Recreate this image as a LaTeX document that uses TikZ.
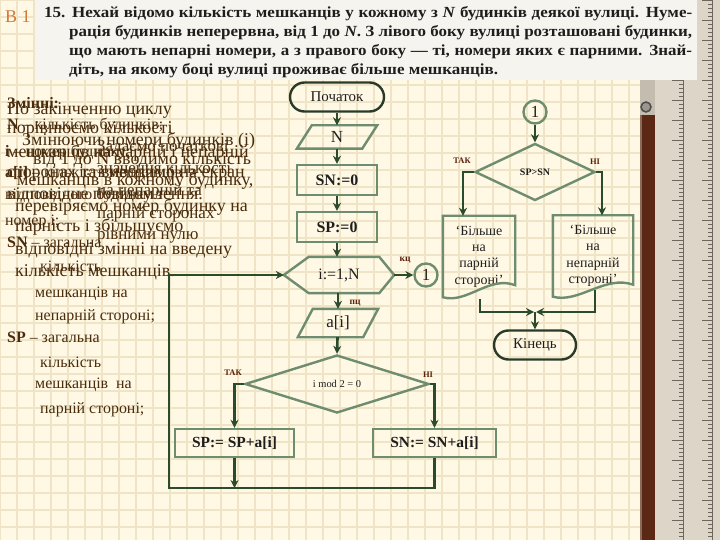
\documentclass[tikz,border=0pt]{standalone}
\usepackage{fontspec}
\setmainfont{Liberation Serif}
\newfontfamily\hdrfont[FakeStretch=1.1]{Liberation Serif}
\usetikzlibrary{calc,shapes.geometric,arrows.meta}
\definecolor{bgc}{HTML}{FFF8E4}
\definecolor{gridc}{HTML}{EFE4C6}
\definecolor{boxc}{HTML}{6E8C6E}
\definecolor{linec}{HTML}{2C4A2C}
\definecolor{termc}{HTML}{2A3A2A}
\definecolor{lblc}{HTML}{5A2008}
\definecolor{txtc}{HTML}{1E1E1E}
\definecolor{leftc}{HTML}{4A2C0C}
\definecolor{orangec}{HTML}{D07838}
\definecolor{hdrbg}{HTML}{F6F4EE}
\definecolor{rulerc}{HTML}{DDD6C8}
\definecolor{tickc}{HTML}{6E665C}
\definecolor{woodc}{HTML}{5A2814}
\definecolor{metalc}{HTML}{C4BCAE}
\tikzset{
 conn/.style={draw=linec, line width=2.6bp, -{Stealth[length=8bp,width=8bp]}},
 boxline/.style={draw=boxc, line width=2.4bp},
 term/.style={draw=termc, line width=2.4bp, rounded corners=14.5bp, minimum width=94bp, minimum height=29bp, inner sep=0, font=\fontsize{15}{17}\selectfont, text=txtc},
 rbox/.style={draw=boxc, line width=2.4bp, minimum width=80bp, minimum height=30bp, inner sep=0, font=\fontsize{16}{18}\selectfont\bfseries, text=txtc},
 slot/.style={inner sep=0, text=txtc},
 conc/.style={circle, draw=boxc, line width=2.4bp, minimum size=23bp, inner sep=0, font=\fontsize{17}{17}\selectfont, text=txtc},
 dec/.style={diamond, draw=boxc, line width=2.4bp, inner sep=0, text=txtc},
 lbl/.style={inner sep=0, text=lblc, font=\fontsize{9.5}{10}\selectfont\bfseries},
 lblu/.style={inner sep=0, text=lblc, font=\fontsize{8.5}{10}\selectfont\bfseries},
 lt/.style={anchor=base west, inner sep=0, text=leftc, font=\fontsize{18}{20}\selectfont},
 lta/.style={anchor=base west, inner sep=0, text=leftc, font=\fontsize{16}{18}\selectfont},
 ltd/.style={anchor=base west, inner sep=0, text=leftc, font=\fontsize{17}{19}\selectfont},
 hdr/.style={anchor=base west, inner sep=0, text=txtc, font=\hdrfont\fontsize{15.5}{17}\selectfont\bfseries},
 doctext/.style={inner sep=0, minimum width=72bp, minimum height=81bp, align=center, text=txtc, font=\fontsize{14}{16.5}\selectfont},
}
\begin{document}
\begin{tikzpicture}[x=1bp,y=-1bp]
\useasboundingbox (0,0) rectangle (720,540);
% background and grid
\fill[bgc] (0,0) rectangle (720,540);
\foreach \gx in {0,17,...,720} {\draw[gridc, line width=1.3bp] (\gx,0) -- (\gx,540);}
\foreach \gy in {0,17,...,540} {\draw[gridc, line width=1.3bp] (0,\gy) -- (720,\gy);}
% ruler at the right
\fill[rulerc] (655,0) rectangle (720,540);
\draw[tickc, line width=0.6bp] (683,0) -- (683,540);
\draw[tickc, line width=0.6bp] (712,0) -- (712,540);
\foreach \ty in {0,4,...,540} {\draw[tickc, line width=0.5bp] (683,\ty) -- (679,\ty); \draw[tickc, line width=0.5bp] (712,\ty) -- (708,\ty);}
\foreach \ty in {0,20,...,540} {\draw[tickc, line width=0.6bp] (683,\ty) -- (672,\ty); \draw[tickc, line width=0.6bp] (712,\ty) -- (702,\ty);}
\fill[metalc] (640,0) rectangle (655,115);
\fill[woodc] (640,115) rectangle (655,540);
\fill[woodc!70!white] (640,115) rectangle (642,540);
\draw[black!70, line width=1.5bp, fill=metalc!80!black] (646,107) circle (5);
% header
\fill[hdrbg] (35,0) rectangle (697,80);
\node[anchor=base west, inner sep=0, text=orangec, font=\fontsize{18}{20}\selectfont] (b1) at (5,23) {В 1};
\node[hdr] (h1) at (44,18) {\makebox[648bp][s]{15. Нехай відомо кількість мешканців у кожному з \textit{N} будинків деякої вулиці. Нуме-}};
\node[hdr] (h2) at (69,37) {\makebox[623bp][s]{рація будинків неперервна, від 1 до \textit{N}. З лівого боку вулиці розташовані будинки,}};
\node[hdr] (h3) at (69,56) {\makebox[623bp][s]{що мають непарні номери, а з правого боку — ті, номери яких є парними. Знай-}};
\node[hdr] (h4) at (69,75) {діть, на якому боці вулиці проживає більше мешканців.};
% left text, layer A (variables)
\node[lta] (a1) at (7,109) {\textbf{Змінні:}};
\node[lta] (a2) at (7,130) {\textbf{N} – кількість будинків;};
\node[lta] (a3) at (5,157) {\textbf{і} – номер будинку;};
\node[lta] (a4) at (5,178) {\textbf{a[i]} – кількість мешканців};
\node[lta] (a5) at (5,200) {відповідного будинку з};
\node[lta] (a6) at (5,226) {номер і;};
\node[lta] (a7) at (7,248) {\textbf{SN} – загальна};
\node[lta] (a8) at (40,272) {кількість};
\node[lta] (a9) at (35,297) {мешканців на};
\node[lta] (a10) at (35,320) {непарній стороні;};
\node[lta] (a11) at (7,342) {\textbf{SP} – загальна};
\node[lta] (a12) at (40,367) {кількість};
\node[lta] (a13) at (35,388) {мешканців \ на};
\node[lta] (a14) at (40,413) {парній стороні;};
% layer B
\node[lt] (b2) at (7,115) {По закінченню циклу};
\node[lt] (b3) at (7,134) {порівнюємо кількості};
\node[lt] (b4) at (7,158) {мешканців на парній і непарній};
\node[lt] (b5) at (7,178) {сторонах та виводимо на екран};
\node[lt] (b6) at (7,200) {відповідне повідомлення.};
% layer C
\node[lt] (c1t) at (22,146) {Змінюючи номери будинків (і)};
\node[lt] (c2t) at (33,165) {від 1 до N вводимо кількість};
\node[lt] (c3t) at (17,186) {мешканців в кожному будинку,};
\node[lt] (c4t) at (15,212) {перевіряємо номер будинку на};
\node[lt] (c5t) at (15,232) {парність і збільшуємо};
\node[lt] (c6t) at (15,255) {відповідні змінні на введену};
\node[lt] (c7t) at (15,277) {кількість мешканців.};
% layer D
\node[ltd] (d1t) at (97,152) {Задаємо початкові};
\node[ltd] (d2t) at (97,174) {значення кількості};
\node[ltd] (d3t) at (97,196) {на непарній та};
\node[ltd] (d4t) at (97,219) {парній сторонах};
\node[ltd] (d5t) at (97,240) {рівними нулю};
% flowchart, left column
\node[term] (start) at (337,97) {Початок};
\node[slot, minimum width=65bp, minimum height=23bp, font=\fontsize{17}{17}\selectfont] (nin) at (337,137) {N};
\draw[boxline] ($(nin.north west)+(7.5,0)$) -- ($(nin.north east)+(7.5,0)$) -- ($(nin.south east)+(-7.5,0)$) -- ($(nin.south west)+(-7.5,0)$) -- cycle;
\node[rbox] (sn0) at (337,180) {SN:=0};
\node[rbox] (sp0) at (337,227) {SP:=0};
\node[slot, minimum width=110bp, minimum height=36bp, font=\fontsize{16}{16}\selectfont] (loop) at (339,275) {i:=1,N};
\draw[boxline] (loop.west) -- ($(loop.north west)+(25,0)$) -- ($(loop.north east)+(-15,0)$) -- (loop.east) -- ($(loop.south east)+(-15,0)$) -- ($(loop.south west)+(25,0)$) -- cycle;
\node[conc] (k1) at (426,275) {1};
\node[slot, minimum width=65bp, minimum height=28bp, font=\fontsize{17}{17}\selectfont] (ain) at (338,323) {a[i]};
\draw[boxline] ($(ain.north west)+(7.5,0)$) -- ($(ain.north east)+(7.5,0)$) -- ($(ain.south east)+(-7.5,0)$) -- ($(ain.south west)+(-7.5,0)$) -- cycle;
\node[dec, minimum width=184bp, minimum height=58bp, font=\fontsize{10.5}{11}\selectfont] (dmod) at (337,384) {i mod 2 = 0};
\node[rbox, minimum width=119bp, minimum height=28bp, font=\fontsize{15.5}{17}\selectfont\bfseries] (spadd) at (234.5,443) {SP:= SP+a[i]};
\node[rbox, minimum width=123bp, minimum height=28bp, font=\fontsize{15.5}{17}\selectfont\bfseries] (snadd) at (434.5,443) {SN:= SN+a[i]};
\coordinate (bl) at (169,488);
% flowchart, right column
\node[conc] (k2) at (535,112) {1};
\node[dec, minimum width=120bp, minimum height=57bp, font=\fontsize{10}{11}\selectfont\bfseries] (dcmp) at (535,172) {SP>SN};
\node[doctext] (doc1) at (479,256.5) {‘Більше\\на\\парній\\стороні’};
\draw[boxline] (doc1.south west) -- (doc1.north west) -- (doc1.north east) -- ($(doc1.south east)+(0,-12)$) .. controls ($(doc1.south east)+(-26,-22)$) and ($(doc1.south west)+(24,7)$) .. (doc1.south west) -- cycle;
\node[doctext, minimum width=80bp] (doc2) at (593,256) {‘Більше\\на\\непарній\\стороні’};
\draw[boxline] (doc2.south west) -- (doc2.north west) -- (doc2.north east) -- ($(doc2.south east)+(0,-12)$) .. controls ($(doc2.south east)+(-28,-22)$) and ($(doc2.south west)+(26,7)$) .. (doc2.south west) -- cycle;
\coordinate (mg) at (535,312);
\node[term, minimum width=82bp] (fin) at (535,345) {Кінець};
% connectors
\draw[conn] (start) -- (nin);
\draw[conn] (nin) -- (sn0);
\draw[conn] (sn0) -- (sp0);
\draw[conn] (sp0.south) -- (sp0.south |- loop.north);
\draw[conn] (loop.east) -- (k1);
\draw[conn] (loop.south -| ain.north) -- (ain.north);
\draw[conn] (ain) -- (dmod.north);
\draw[conn] (dmod.west) -| (spadd.north);
\draw[conn] (dmod.east) -| (snadd.north);
\draw[conn] (spadd.south) -- (spadd.south |- bl);
\draw[conn] (snadd.south) |- (bl) |- (loop.west);
\draw[conn] (k2) -- (dcmp.north);
\draw[conn] (dcmp.west) -| ($(doc1.north)+(-16,0)$);
\draw[conn] (dcmp.east) -| ($(doc2.north)+(9,0)$);
\draw[conn] ($(doc1.south)+(1,2)$) |- ($(mg)+(-1,0)$);
\draw[conn] ($(doc2.south)+(2,-7)$) |- ($(mg)+(1,0)$);
\draw[conn] (mg) -- (fin.north);
% labels
\node[lbl] (lkc) at (405,260) {кц};
\node[lbl] (lpc) at (355,303) {пц};
\node[lblu] (ltak1) at (233,373) {ТАК};
\node[lblu] (lni1) at (428,375) {НІ};
\node[lblu] (ltak2) at (462,161) {ТАК};
\node[lblu] (lni2) at (595,162) {НІ};
\end{tikzpicture}
\end{document}
